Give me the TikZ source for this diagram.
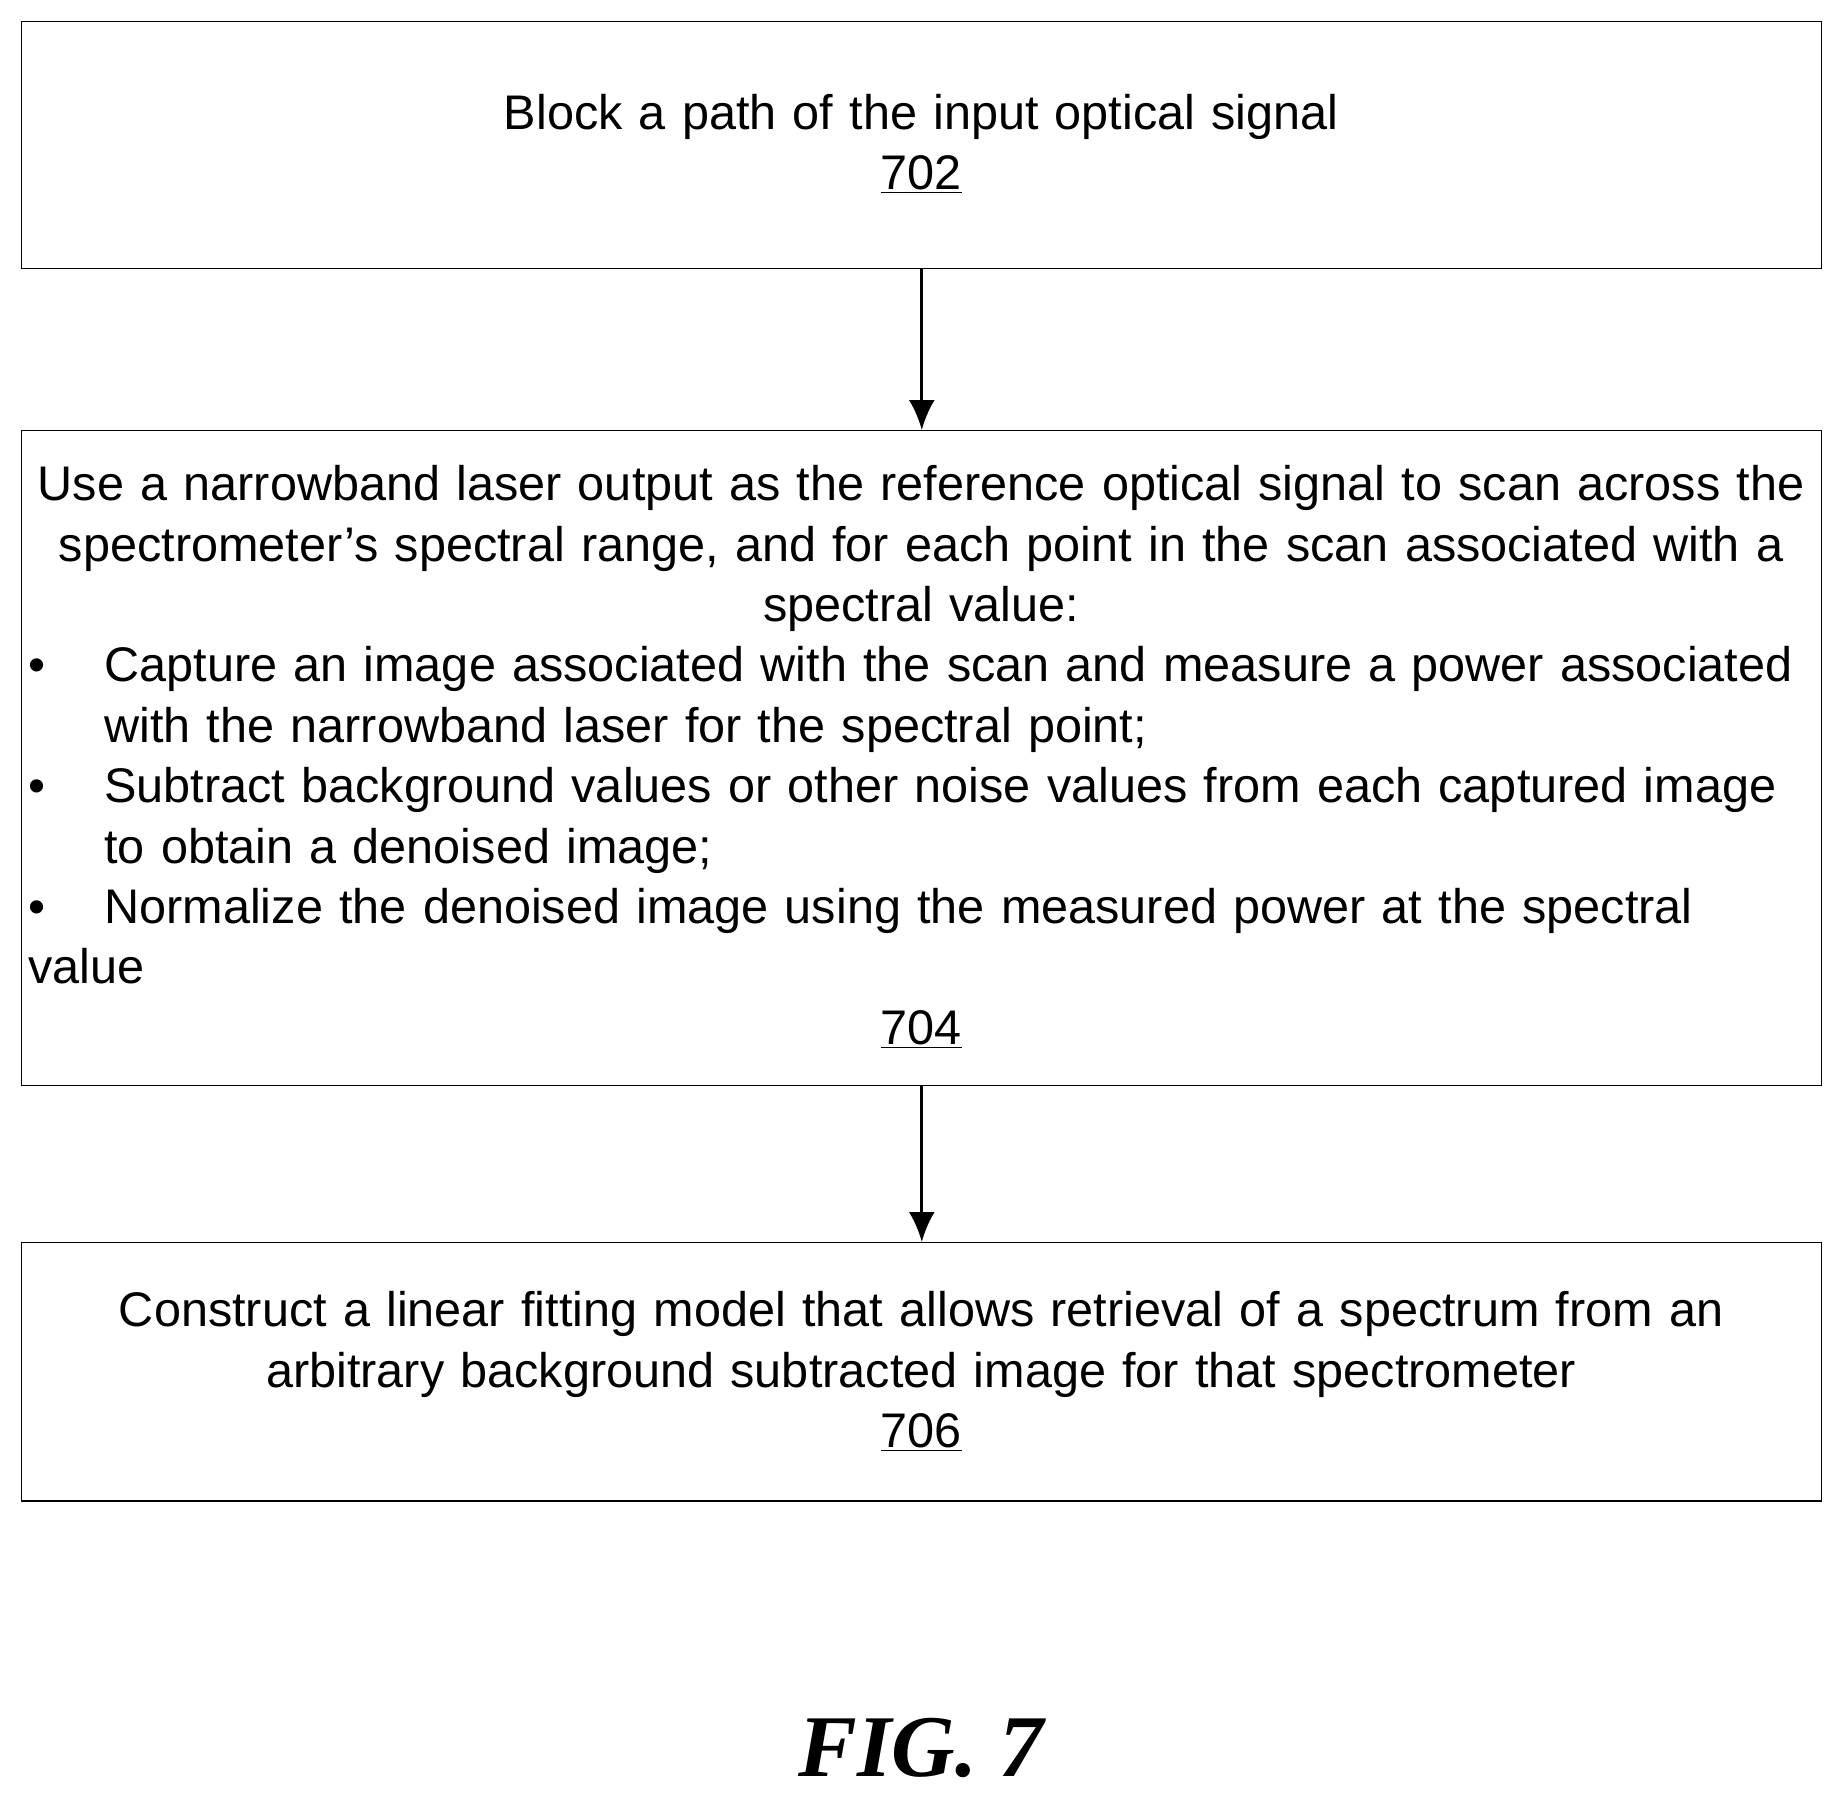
\documentclass[tikz,border=0pt]{standalone}
\usepackage{fontspec}
\setmainfont{Liberation Sans}
\newfontfamily\figfont{Liberation Serif}
\begin{document}
\begin{tikzpicture}[x=1pt,y=1pt,
  box/.style={draw,line width=0.6pt},
  txt/.style={font=\fontsize{24.3}{30.2}\selectfont,inner sep=0pt,anchor=base},
  arr/.style={line width=1.6pt,-{Latex[length=15pt,width=13pt]}}]
\usetikzlibrary{arrows.meta}
\useasboundingbox (0,0) rectangle (921,-900.5);
\node[box,minimum width=900pt,minimum height=123.4pt,anchor=north west] (b1) at (10.6,-10.6) {};
\node[box,minimum width=900pt,minimum height=327.3pt,anchor=north west] (b2) at (10.6,-215) {};
\node[box,minimum width=900pt,minimum height=129.2pt,anchor=north west] (b3) at (10.6,-621) {};
\node[txt,align=center,text width=900pt] (t1) at (460.6,-64.6) {Block a path of the input optical signal\\\underline{702}};
\node[txt,align=center,text width=910pt] (t2a) at (460.6,-250.3) {Use a narrowband laser output as the reference optical signal to scan across the\\spectrometer’s spectral range, and for each point in the scan associated with a\\spectral value:};
\node[txt,align=left,text width=886pt,anchor=base west] (t2b) at (14,-340.9) {%
\hangindent=38pt\hangafter=1\noindent\makebox[38pt][l]{\textbullet}Capture an image associated with the scan and measure a power associated with the narrowband laser for the spectral point;\par
\hangindent=38pt\hangafter=1\noindent\makebox[38pt][l]{\textbullet}Subtract background values or other noise values from each captured image to obtain a denoised image;\par
\hangindent=38pt\hangafter=1\noindent\makebox[38pt][l]{\textbullet}Normalize the denoised image using the measured power at the spectral value};
\node[txt] (t2c) at (460.6,-522.3) {\underline{704}};
\node[txt,align=center,text width=900pt] (t3) at (460.6,-663.3) {Construct a linear fitting model that allows retrieval of a spectrum from an\\arbitrary background subtracted image for that spectrometer\\\underline{706}};
\node[inner sep=0pt,anchor=base,font=\figfont\fontsize{44}{50}\selectfont\bfseries\itshape] (fig) at (460.6,-888) {FIG. 7};
\draw[arr] (b1.south) -- (b2.north);
\draw[arr] (b2.south) -- (b3.north);
\end{tikzpicture}
\end{document}
